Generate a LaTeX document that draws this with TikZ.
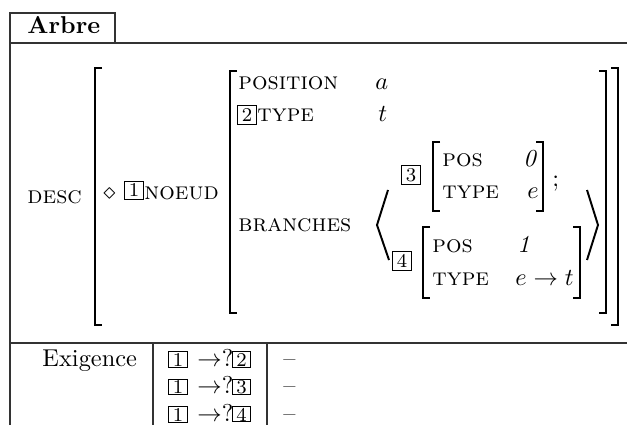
\documentclass[tikz,border=0pt]{standalone}
\usetikzlibrary{positioning}

\begin{document}
\begin{tikzpicture}[x=0.41pt,y=-0.41pt,
  lbl/.style={anchor=base west,inner sep=0pt},
  tag/.style={draw,line width=0.4pt,font=\footnotesize,inner sep=0pt,minimum width=7.4pt,minimum height=7.6pt},
  brk/.style={line width=0.8pt},
  rule/.style={line width=0.45pt,black!80}]
\useasboundingbox (0,0) rectangle (627,425);
% cadre et onglet
\draw[rule] (10,425) -- (10,13) -- (115,13) -- (115,43);
\draw[rule] (10,43) -- (627,43);
\draw[rule] (10,343) -- (627,343);
\draw[rule] (153,343) -- (153,425);
\draw[rule] (267,343) -- (267,425);
\node[lbl,font=\bfseries] (arbre) at (27,34) {Arbre};
% structure principale
\node[lbl] (desc) at (27,203) {\textsc{desc}};
\draw[brk] (102,68) -- (95,68) -- (95,325) -- (102,325);
\draw[brk] (611,68) -- (618,68) -- (618,325) -- (611,325);
\node[lbl] (losange) at (103,199) {$\diamond$};
\node[tag] (t1) at (134,190.5) {1};
\node[lbl] (noeud) at (144,199) {\textsc{noeud}};
\draw[brk] (237,71) -- (230,71) -- (230,313) -- (237,313);
\draw[brk] (599,71) -- (606,71) -- (606,313) -- (599,313);
\node[lbl] (position) at (238,90) {\textsc{position}};
\node[lbl] (vala) at (375,90) {$a$};
\node[tag] (t2) at (247,115) {2};
\node[lbl] (type) at (257,122) {\textsc{type}};
\node[lbl] (valt) at (378,122) {$t$};
\node[lbl] (branches) at (238,231) {\textsc{branches}};
% liste des branches
\draw[brk] (388,190) -- (377,225) -- (389,260);
\draw[brk] (587,190) -- (598,225) -- (587,260);
\node[tag] (t3) at (411,175) {3};
\draw[brk] (440,142) -- (433,142) -- (433,211) -- (440,211);
\draw[brk] (536,142) -- (543,142) -- (543,211) -- (536,211);
\node[lbl] (pos3) at (442,166) {\textsc{pos}};
\node[lbl] (val0) at (523,166) {\textit{0}};
\node[lbl] (type3) at (442,198) {\textsc{type}};
\node[lbl] (vale) at (527,198) {$e$};
\node[lbl] (pv) at (552,186) {;};
\node[tag] (t4) at (402,261) {4};
\draw[brk] (430,227) -- (423,227) -- (423,298) -- (430,298);
\draw[brk] (573,227) -- (580,227) -- (580,298) -- (573,298);
\node[lbl] (pos4) at (432,252) {\textsc{pos}};
\node[lbl] (val1) at (517,252) {\textit{1}};
\node[lbl] (type4) at (432,285) {\textsc{type}};
\node[lbl] (valet) at (515,285) {$e\rightarrow t$};
% exigences
\node[lbl] (exig) at (42,366) {Exigence};
\foreach \n/\y in {2/366,3/393.5,4/421}{
  \node[tag,minimum height=6.2pt,anchor=base] (e1-\n) at (178,\y) {1};
  \node[lbl] (fl\n) at (197,\y) {$\rightarrow$?};
  \node[tag,minimum height=6.2pt,anchor=base] (e2-\n) at (241.5,\y) {\n};
  \node[lbl] (tiret\n) at (283,\y) {--};
}
\end{tikzpicture}
\end{document}
